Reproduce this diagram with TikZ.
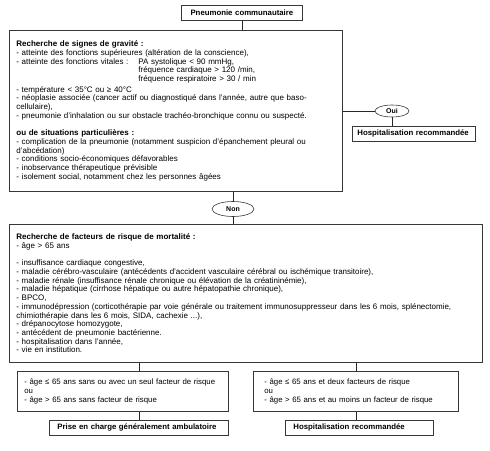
\documentclass[tikz,border=0pt]{standalone}
\usepackage{fontspec}
\setmainfont{Liberation Sans}
\usetikzlibrary{shapes.geometric}
\definecolor{rim}{RGB}{55,55,55}

\begin{document}
\begin{tikzpicture}[x=1pt,y=-1pt,
    every node/.style={font=\fontsize{8}{8.7}\selectfont},
    panel/.style={draw=rim,line width=0.8pt,anchor=north west,align=left,inner xsep=7pt,inner ysep=0pt},
    tag/.style={draw=rim,line width=0.8pt,anchor=north west,align=left,inner xsep=7pt,inner ysep=0pt,
      minimum height=15pt,font=\fontsize{7.8}{8.7}\selectfont\bfseries},
    answer/.style={draw=rim,line width=0.6pt,ellipse,inner sep=0pt,font=\fontsize{7}{8}\selectfont\bfseries},
    link/.style={draw=black!85,line width=0.8pt}]
  \useasboundingbox (0,0) rectangle (490,450);
  % entry
  \node[tag,align=center,text width=107pt,minimum width=121pt] (pneumo) at (181,5) {Pneumonie communautaire};
  % first screening
  \node[panel,text width=319pt,minimum width=333pt,minimum height=161pt] (gravite) at (9,30) {%
    \textbf{Recherche de signes de gravité :}\\
    - atteinte des fonctions supérieures (altération de la conscience),\\
    \makebox[122pt][l]{- atteinte des fonctions vitales :}PA systolique < 90 mmHg,\\
    \hspace*{122pt}fréquence cardiaque > 120 /min,\\
    \hspace*{122pt}fréquence respiratoire > 30 / min\\[2pt]
    - température < 35°C ou ≥ 40°C\\
    - néoplasie associée (cancer actif ou diagnostiqué dans l'année, autre que baso-\\
    cellulaire),\\
    - pneumonie d'inhalation ou sur obstacle trachéo-bronchique connu ou suspecté.\\[8.7pt]
    \textbf{ou de situations particulières :}\\
    - complication de la pneumonie (notamment suspicion d'épanchement pleural ou\\
    d'abcédation)\\
    - conditions socio-économiques défavorables\\
    - inobservance thérapeutique prévisible\\
    - isolement social, notamment chez les personnes âgées};
  \node[answer,minimum width=34pt,minimum height=12pt] (oui) at (392,111) {Oui};
  \node[tag,inner xsep=5pt,text width=113pt,minimum width=123pt] (hospA) at (352,126) {Hospitalisation recommandée};
  \node[answer,minimum width=42pt,minimum height=15pt] (non) at (233,209) {Non};
  % mortality risk
  \node[panel,text width=459pt,minimum width=473pt,minimum height=138pt] (risque) at (9,224) {%
    \textbf{Recherche de facteurs de risque de mortalité :}\\
    - âge > 65 ans\\[8.7pt]
    - insuffisance cardiaque congestive,\\
    - maladie cérébro-vasculaire (antécédents d'accident vasculaire cérébral ou ischémique transitoire),\\
    - maladie rénale (insuffisance rénale chronique ou élévation de la créatininémie),\\
    - maladie hépatique (cirrhose hépatique ou autre hépatopathie chronique),\\
    - BPCO,\\
    - immunodépression (corticothérapie par voie générale ou traitement immunosuppresseur dans les 6 mois, splénectomie,\\
    chimiothérapie dans les 6 mois, SIDA, cachexie ...),\\
    - drépanocytose homozygote,\\
    - antécédent de pneumonie bactérienne.\\
    - hospitalisation dans l'année,\\
    - vie en institution.};
  % outcome
  \node[panel,inner xsep=7pt,text width=197pt,minimum width=211pt,minimum height=40pt,
    font=\fontsize{7.8}{8.7}\selectfont] (faible) at (17,371) {%
    - âge ≤ 65 ans sans ou avec un seul facteur de risque\\
    ou\\
    - âge > 65 ans sans facteur de risque};
  \node[panel,inner xsep=11pt,text width=183pt,minimum width=205pt,minimum height=40pt,
    font=\fontsize{7.8}{8.7}\selectfont] (eleve) at (253,371) {%
    - âge ≤ 65 ans et deux facteurs de risque\\
    ou\\
    - âge > 65 ans et au moins un facteur de risque};
  \node[tag,inner xsep=8pt,text width=163pt,minimum width=179pt] (ambu) at (49,420) {Prise en charge généralement ambulatoire};
  \node[tag,inner xsep=8pt,text width=132pt,minimum width=148pt] (hospB) at (285,420) {Hospitalisation recommandée};
  % connectors
  \draw[link] (pneumo.south) -- (pneumo.south |- gravite.north);
  \draw[link] (oui.west -| gravite.east) -- (oui.west);
  \draw[link] (oui.south) -- (oui.south |- hospA.north);
  \draw[link] (non.north |- gravite.south) -- (non.north);
  \draw[link] (non.south) -- (non.south |- risque.north);
  \draw[link] (ambu.north |- risque.south) -- (ambu.north |- faible.north);
  \draw[link] (ambu.north |- faible.south) -- (ambu.north);
  \draw[link] (eleve.north |- risque.south) -- (eleve.north);
  \draw[link] (eleve.south) -- (eleve.south |- hospB.north);
\end{tikzpicture}
\end{document}
